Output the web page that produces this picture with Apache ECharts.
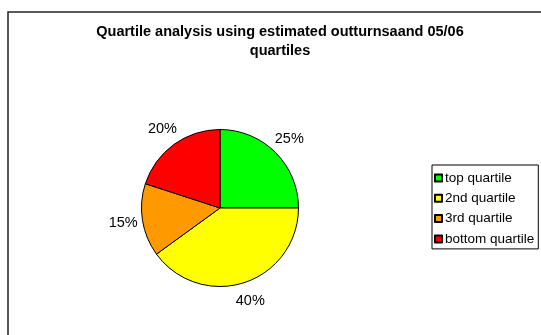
<!DOCTYPE html>
<html>
<head>
<meta charset="utf-8">
<script src="https://cdn.jsdelivr.net/npm/echarts@6/dist/echarts.min.js"></script>
<style>
  html, body { margin: 0; padding: 0; background: #fff; }
  #chart { width: 541px; height: 335px; }
</style>
</head>
<body>
<div id="chart"></div>
<script>
// Quartile shares (percent)
const categories = ['top quartile', '2nd quartile', '3rd quartile', 'bottom quartile'];
const shares = [25, 40, 15, 20];
const colours = ['#00FF00', '#FFFF00', '#FF9900', '#FF0000'];
const titleText = 'Quartile analysis using estimated outturnsaand 05/06\nquartiles';

const FONT = '"Liberation Sans", Arial, sans-serif';
const centre = [220, 208];

const sliceData = categories.map((name, i) => ({
  name: name,
  value: shares[i],
  itemStyle: { color: colours[i] }
}));

const chart = echarts.init(document.getElementById('chart'), null, { renderer: 'canvas' });

chart.setOption({
  animation: false,
  backgroundColor: '#ffffff',
  graphic: [{
    type: 'rect',
    silent: true,
    shape: { x: 8, y: 12, width: 700, height: 500 },
    style: { fill: 'none', stroke: '#222', lineWidth: 1.5 }
  }],
  title: {
    text: titleText,
    left: 275,
    textAlign: 'center',
    top: 18,
    textStyle: {
      fontFamily: FONT,
      fontWeight: 'bold',
      fontSize: 14.5,
      lineHeight: 18.5,
      color: '#000'
    }
  },
  legend: {
    orient: 'vertical',
    left: 432,
    top: 165,
    data: categories,
    backgroundColor: '#fff',
    borderColor: '#000',
    borderWidth: 1,
    padding: [6, 4, 3, 2],
    itemWidth: 7,
    itemHeight: 7,
    itemGap: 6.3,
    icon: 'rect',
    textStyle: {
      fontFamily: FONT,
      fontSize: 13.5,
      lineHeight: 14,
      color: '#000',
      padding: [0, 0, 0, -2]
    }
  },
  series: [
    {
      type: 'pie',
      center: centre,
      radius: 78.5,
      startAngle: 90,
      clockwise: true,
      silent: true,
      data: sliceData,
      itemStyle: { borderColor: '#000', borderWidth: 1 },
      label: { show: false },
      labelLine: { show: false },
      emphasis: { disabled: true }
    },
    {
      // transparent ring that carries the percentage labels around the pie
      type: 'pie',
      center: centre,
      radius: [91, 99],
      startAngle: 90,
      clockwise: true,
      silent: true,
      data: categories.map((name, i) => ({ name: name, value: shares[i] })),
      itemStyle: { color: 'rgba(0,0,0,0)', borderWidth: 0 },
      label: {
        show: true,
        position: 'inside',
        rotate: 0,
        formatter: '{c}%',
        fontFamily: FONT,
        fontSize: 14.5,
        color: '#000'
      },
      labelLine: { show: false },
      emphasis: { disabled: true }
    }
  ]
});
</script>
</body>
</html>
